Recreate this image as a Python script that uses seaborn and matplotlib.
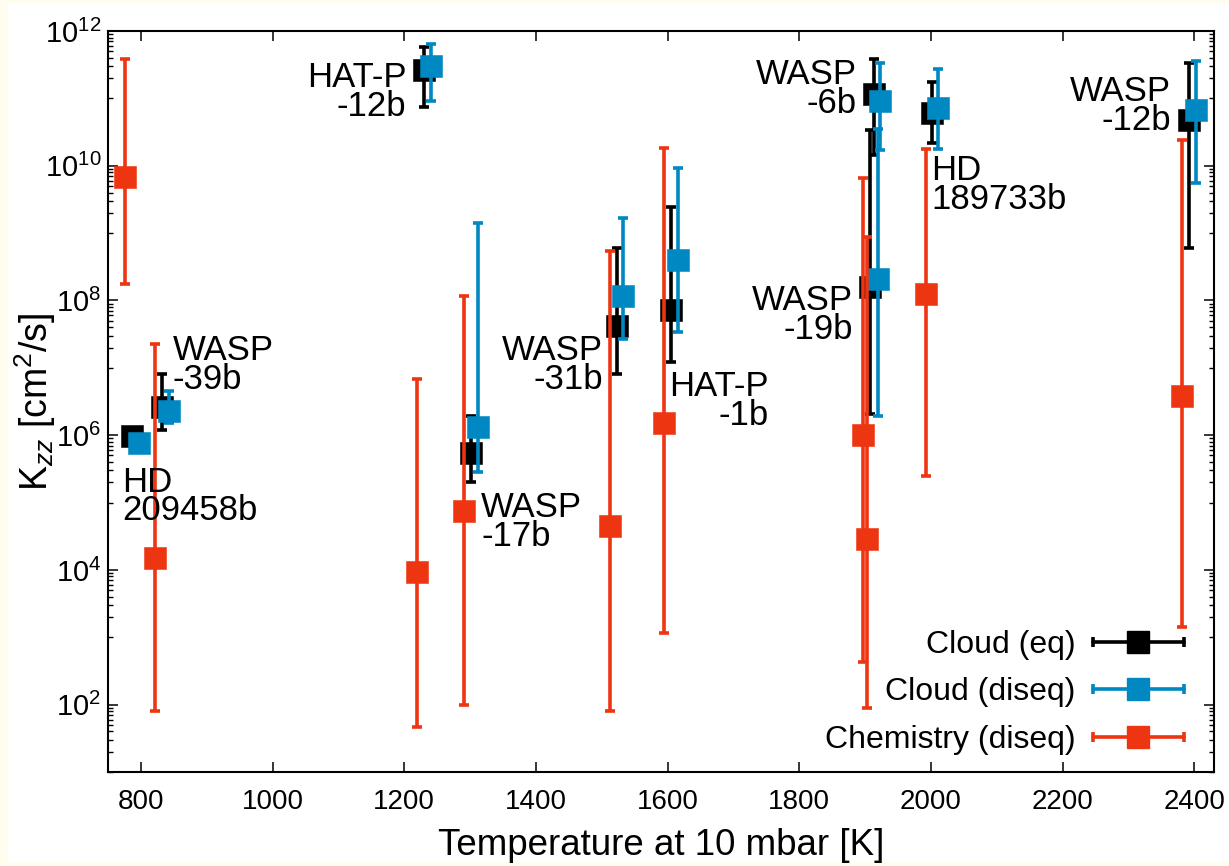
import numpy as np
import pandas as pd
import matplotlib
matplotlib.use("Agg")
import matplotlib.pyplot as plt
import seaborn as sns
from matplotlib.lines import Line2D
from matplotlib.legend_handler import HandlerLine2D
from matplotlib.ticker import FixedLocator, LogFormatterSciNotation, NullFormatter
from matplotlib.patches import Rectangle

# ---------------- data (log10 of Kzz in cm^2/s) ----------------
planets = ["HD 209458b", "WASP-39b", "HAT-P-12b", "WASP-17b", "WASP-31b",
           "HAT-P-1b", "WASP-19b", "WASP-6b", "HD 189733b", "WASP-12b"]

# Cloud (eq)
eq_T = [787, 832, 1230, 1302, 1523, 1605, 1907, 1913, 2001, 2392]
eq_logK = [5.99, 6.42, 11.42, 5.73, 7.62, 7.86, 8.20, 11.07, 10.79, 10.68]
eq_logLo = [5.99, 6.07, 10.87, 5.30, 6.91, 7.08, 6.31, 10.16, 10.34, 8.78]
eq_logHi = [5.99, 6.91, 11.76, 6.29, 8.78, 9.39, 10.53, 11.58, 11.25, 11.53]

# Cloud (diseq)
dis_T = [797, 842, 1241, 1312, 1533, 1616, 1920, 1923, 2011, 2403]
dis_logK = [5.89, 6.36, 11.48, 6.12, 8.07, 8.60, 8.32, 10.96, 10.85, 10.83]
dis_logLo = [5.89, 6.18, 10.96, 5.45, 7.43, 7.53, 6.28, 10.23, 10.25, 9.75]
dis_logHi = [5.89, 6.65, 11.81, 9.15, 9.22, 9.96, 10.55, 11.53, 11.43, 11.56]

# Chemistry (diseq)
chem_T = [776, 821, 1220, 1291, 1513, 1595, 1897, 1903, 1992, 2382]
chem_logK = [9.83, 4.17, 3.97, 4.87, 4.65, 6.18, 6.00, 4.46, 8.09, 6.58]
chem_logLo = [8.25, 1.90, 1.67, 1.99, 1.91, 3.06, 2.63, 1.95, 5.40, 3.15]
chem_logHi = [11.59, 7.35, 6.84, 8.07, 8.74, 10.26, 9.82, 8.94, 10.25, 10.38]

series_names = ["Cloud (eq)", "Cloud (diseq)", "Chemistry (diseq)"]
series_colors = ["#000000", "#0088C2", "#EE3512"]

# planet labels: text, T, log10 K, alignment
label_texts = ["HAT-P\n-12b", "WASP\n-39b", "HD\n209458b", "WASP\n-17b", "WASP\n-31b",
               "HAT-P\n-1b", "WASP\n-6b", "WASP\n-19b", "HD\n189733b", "WASP\n-12b"]
label_T = [1203, 848, 772, 1317, 1502, 1754, 1887, 1882, 2001, 2365]
label_logK = [11.10, 7.04, 5.09, 4.71, 7.04, 6.51, 11.14, 7.78, 9.72, 10.89]
label_ha = ["right", "left", "left", "left", "right", "right", "right", "right", "left", "right"]

# ---------------- style ----------------
sns.set_theme(style="ticks")
plt.rcParams["font.family"] = ["Liberation Sans", "DejaVu Sans"]
plt.rcParams["mathtext.fontset"] = "custom"
plt.rcParams["mathtext.rm"] = "Liberation Sans"
plt.rcParams["mathtext.it"] = "Liberation Sans:italic"
plt.rcParams["mathtext.default"] = "regular"
for key in ["text.color", "axes.labelcolor", "xtick.color", "ytick.color", "axes.edgecolor"]:
    plt.rcParams[key] = "black"

W, H = 1229, 866
fig = plt.figure(figsize=(W / 100, H / 100), dpi=100)
fig.patch.set_facecolor("#FFFDEE")
fig.patches.append(Rectangle((8 / W, 4 / H), 1 - 8 / W, 1 - 7 / H, transform=fig.transFigure,
                             facecolor="white", edgecolor="none", zorder=-10))
ax = fig.add_axes([108 / W, 1 - 772 / H, (1214 - 108) / W, (772 - 31) / H])
ax.set_facecolor("white")

frames = []
for name, T, lk, lo, hi in [
    (series_names[0], eq_T, eq_logK, eq_logLo, eq_logHi),
    (series_names[1], dis_T, dis_logK, dis_logLo, dis_logHi),
    (series_names[2], chem_T, chem_logK, chem_logLo, chem_logHi),
]:
    frames.append(pd.DataFrame({"planet": planets, "T": T, "K": 10 ** np.array(lk),
                                "lo": 10 ** np.array(lo), "hi": 10 ** np.array(hi),
                                "series": name}))
df = pd.concat(frames, ignore_index=True)

ELW = 2.6
for i, (name, color) in enumerate(zip(series_names, series_colors)):
    d = df[df["series"] == name]
    err = np.vstack([d["K"] - d["lo"], d["hi"] - d["K"]])
    has = (d["hi"] > d["lo"]).values
    ax.errorbar(d["T"].values[has], d["K"].values[has], yerr=err[:, has], fmt="none",
                ecolor=color, elinewidth=ELW, capsize=3.6, capthick=ELW, zorder=2 + 2 * i)
    sns.scatterplot(data=d, x="T", y="K", marker="s", s=235, color=color,
                    edgecolor=color, linewidth=0.4, ax=ax, zorder=3 + 2 * i, legend=False)

ax.set_yscale("log")
ax.set_xlim(750, 2430)
ax.set_ylim(1e1, 1e12)

ax.xaxis.set_major_locator(FixedLocator([800, 1000, 1200, 1400, 1600, 1800, 2000, 2200, 2400]))
ax.yaxis.set_major_locator(FixedLocator([10.0 ** p for p in range(2, 13, 2)]))
ax.yaxis.set_major_formatter(LogFormatterSciNotation())
ax.yaxis.set_minor_locator(FixedLocator([k * 10.0 ** n for n in range(1, 12, 2) for k in range(1, 10)]))
ax.yaxis.set_minor_formatter(NullFormatter())

ax.tick_params(axis="both", which="major", direction="in", length=7, width=1.1,
               top=True, right=True, colors="black")
ax.tick_params(axis="x", which="major", labelsize=20, pad=12)
ax.tick_params(axis="y", which="major", labelsize=21, pad=5)
ax.tick_params(axis="y", which="minor", direction="in", length=3.6, width=1.0,
               left=True, right=True, colors="black")
for sp in ax.spines.values():
    sp.set_linewidth(1.5)
    sp.set_color("black")

ax.set_xlabel("Temperature at 10 mbar [K]", fontsize=26.5, color="black")
ax.set_ylabel("K$_{\\mathit{zz}}$ [cm$^2$/s]", fontsize=27, color="black")
ax.xaxis.set_label_coords(0.5, -0.075)
ax.yaxis.set_label_coords(-0.045, 0.5)

for txt, T, lk, ha in zip(label_texts, label_T, label_logK, label_ha):
    ax.text(T, 10 ** lk, txt, ha=ha, va="center", multialignment=ha,
            fontsize=25, linespacing=0.84, zorder=20, color="black")

# legend with horizontal error-bar samples
handles = []
hmap = {}
for color in series_colors:
    bar = Line2D([], [], color=color, lw=ELW, marker="|", markersize=7.5, mew=ELW)
    sq = Line2D([], [], color=color, ls="none", marker="s", markersize=15.5)
    handles.append((bar, sq))
    hmap[bar] = HandlerLine2D(numpoints=2, marker_pad=0)
    hmap[sq] = HandlerLine2D(numpoints=1)
leg = ax.legend(handles, series_names, handler_map=hmap, loc="lower right",
                bbox_to_anchor=(1184 / W, 1 - 755 / H), bbox_transform=fig.transFigure,
                frameon=False, markerfirst=False, fontsize=23, handlelength=2.85,
                handletextpad=0.55, labelspacing=0.55, borderpad=0, borderaxespad=0)
for t in leg.get_texts():
    t.set_color("black")

fig.savefig("out.png", dpi=100, facecolor=fig.get_facecolor())
